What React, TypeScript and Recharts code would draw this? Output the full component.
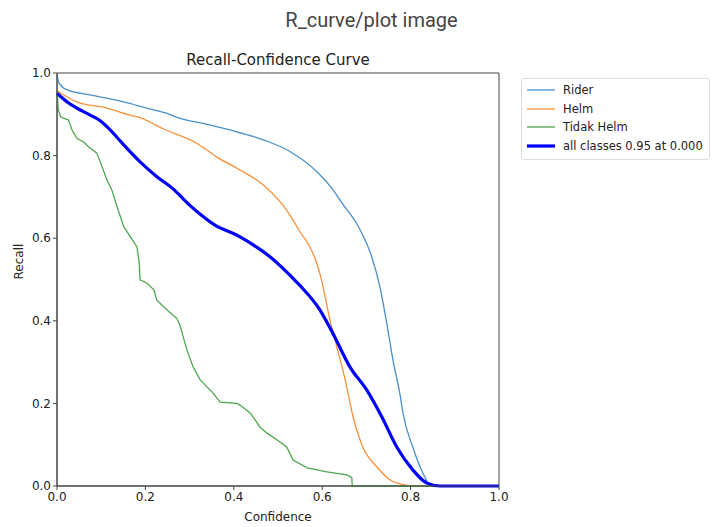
import { Legend, Line, LineChart, ReferenceArea, XAxis, YAxis } from "recharts";

type Pt = { c: number; r: number };

const toPts = (rows: number[][]): Pt[] => rows.map(([c, r]) => ({ c, r }));

const TICKS = [0, 0.2, 0.4, 0.6, 0.8, 1.0];

const riderData = toPts([
  [0, 0.995], [0.005, 0.975], [0.023, 0.959], [0.075, 0.947], [0.151, 0.93], [0.203, 0.915],
  [0.249, 0.902], [0.278, 0.89], [0.33, 0.878], [0.391, 0.862], [0.467, 0.838], [0.527, 0.81],
  [0.588, 0.761], [0.618, 0.726], [0.645, 0.685], [0.686, 0.62], [0.712, 0.555], [0.731, 0.48],
  [0.746, 0.394], [0.761, 0.3], [0.776, 0.222], [0.783, 0.175], [0.805, 0.094], [0.828, 0.031],
  [0.844, 0.003], [0.86, 0], [1, 0],
]);

const helmData = toPts([
  [0, 0.957], [0.045, 0.93], [0.113, 0.915], [0.165, 0.898], [0.188, 0.892], [0.24, 0.865],
  [0.316, 0.83], [0.361, 0.797], [0.414, 0.765], [0.467, 0.729], [0.505, 0.688], [0.527, 0.656],
  [0.55, 0.615], [0.57, 0.583], [0.585, 0.548], [0.597, 0.505], [0.618, 0.4], [0.633, 0.337],
  [0.652, 0.257], [0.67, 0.167], [0.692, 0.094], [0.724, 0.046], [0.753, 0.015], [0.79, 0.002],
  [0.8, 0], [1, 0],
]);

const tidakData = toPts([
  [0, 0.959], [0.003, 0.91], [0.008, 0.894], [0.026, 0.886], [0.034, 0.862], [0.045, 0.842],
  [0.06, 0.833], [0.072, 0.821], [0.09, 0.806], [0.102, 0.773], [0.113, 0.741], [0.124, 0.717],
  [0.136, 0.676], [0.151, 0.628], [0.181, 0.579], [0.186, 0.54], [0.188, 0.499], [0.204, 0.491],
  [0.219, 0.475], [0.226, 0.45], [0.249, 0.426], [0.271, 0.406], [0.278, 0.39], [0.294, 0.329],
  [0.308, 0.288], [0.324, 0.257], [0.353, 0.225], [0.369, 0.203], [0.407, 0.2], [0.414, 0.196],
  [0.437, 0.177], [0.459, 0.143], [0.475, 0.128], [0.5, 0.11], [0.52, 0.094], [0.534, 0.063],
  [0.566, 0.044], [0.611, 0.034], [0.656, 0.027], [0.667, 0.02], [0.668, 0], [1, 0],
]);

const allData = toPts([
  [0, 0.951], [0.023, 0.93], [0.045, 0.915], [0.075, 0.898], [0.097, 0.885], [0.113, 0.87],
  [0.151, 0.826], [0.188, 0.785], [0.226, 0.749], [0.262, 0.72], [0.3, 0.68], [0.324, 0.658],
  [0.36, 0.63], [0.398, 0.612], [0.414, 0.603], [0.459, 0.573], [0.49, 0.548], [0.511, 0.527],
  [0.534, 0.503], [0.55, 0.485], [0.595, 0.426], [0.624, 0.37], [0.663, 0.288], [0.701, 0.232],
  [0.735, 0.167], [0.769, 0.094], [0.805, 0.039], [0.837, 0.007], [0.867, 0], [1, 0],
]);

const SERIES = [
  { name: "Rider", data: riderData, color: "#4a8fc8", width: 1.3, curve: "monotoneX" },
  { name: "Helm", data: helmData, color: "#f8903a", width: 1.3, curve: "monotoneX" },
  { name: "Tidak Helm", data: tidakData, color: "#4ea64e", width: 1.3, curve: "linear" },
  { name: "all classes 0.95 at 0.000", data: allData, color: "#0000ff", width: 3.2, curve: "monotoneX" },
] as const;

const FONT = "'DejaVu Sans', sans-serif";

function LegendBox() {
  return (
    <div
      style={{
        border: "1px solid #ddd",
        borderRadius: 3,
        background: "#fff",
        padding: "2px 6px 4px 5px",
        fontFamily: FONT,
        fontSize: 11.5,
        color: "#222",
      }}
    >
      {SERIES.map((s) => (
        <div key={s.name} style={{ display: "flex", alignItems: "center", height: 18.5 }}>
          <svg width={28} height={6} style={{ marginRight: 8 }}>
            <line x1={0} y1={3} x2={28} y2={3} stroke={s.color} strokeWidth={s.width} />
          </svg>
          <span style={{ whiteSpace: "nowrap" }}>{s.name}</span>
        </div>
      ))}
    </div>
  );
}

export default function App() {
  return (
    <div style={{ position: "absolute", left: 0, top: 0, width: 720, height: 527, background: "#fff" }}>
      <div
        style={{
          position: "absolute",
          top: 8,
          left: 0,
          width: 743,
          textAlign: "center",
          fontFamily: "Roboto, sans-serif",
          fontSize: 20,
          color: "#444",
        }}
      >
        R_curve/plot image
      </div>
      <div
        style={{
          position: "absolute",
          top: 51,
          left: 57,
          width: 442,
          textAlign: "center",
          fontFamily: FONT,
          fontSize: 15,
          color: "#222",
        }}
      >
        Recall-Confidence Curve
      </div>
      <LineChart width={720} height={527} margin={{ top: 73, right: 221, bottom: 11, left: 17 }}>
        <XAxis
          dataKey="c"
          type="number"
          domain={[0, 1]}
          ticks={TICKS}
          tickFormatter={(v: number) => v.toFixed(1)}
          height={30}
          tickSize={4}
          stroke="#444"
          tick={{ fill: "#222", fontSize: 12, fontFamily: FONT }}
          label={{ value: "Confidence", position: "insideBottom", offset: -5, fill: "#222", fontSize: 12, fontFamily: FONT }}
        />
        <YAxis
          dataKey="r"
          type="number"
          domain={[0, 1]}
          ticks={TICKS}
          tickFormatter={(v: number) => v.toFixed(1)}
          width={40}
          tickSize={4}
          stroke="#444"
          tick={{ fill: "#222", fontSize: 12, fontFamily: FONT }}
          label={{ value: "Recall", angle: -90, position: "insideLeft", offset: 2, fill: "#222", fontSize: 12, fontFamily: FONT }}
        />
        <ReferenceArea x1={0} x2={1} y1={0} y2={1} fill="none" stroke="#444" strokeWidth={1} />
        {SERIES.map((s) => (
          <Line
            key={s.name}
            data={s.data}
            dataKey="r"
            name={s.name}
            type={s.curve}
            stroke={s.color}
            strokeWidth={s.width}
            dot={false}
            isAnimationActive={false}
          />
        ))}
        <Legend
          layout="vertical"
          align="center"
          verticalAlign="middle"
          wrapperStyle={{ left: 521, top: 78, width: "auto" }}
          content={() => <LegendBox />}
        />
      </LineChart>
    </div>
  );
}
